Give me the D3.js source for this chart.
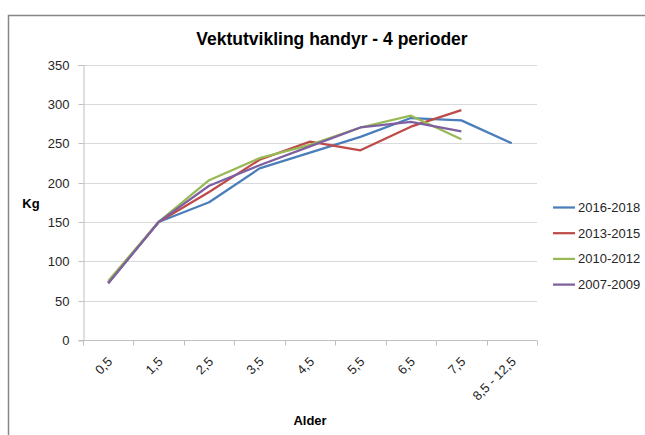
<!DOCTYPE html>
<html><head><meta charset="utf-8">
<script src="https://cdn.jsdelivr.net/npm/d3@7/dist/d3.min.js"></script>
<style>body{margin:0;background:#fff;} text{font-family:"Liberation Sans",Arial,sans-serif;}</style>
</head><body><svg id="c" width="645" height="435"></svg>
<script>
const categories = ["0,5","1,5","2,5","3,5","4,5","5,5","6,5","7,5","8,5 - 12,5"];
const s2016 = [72,150,175,218,238,258,282,279,250];
const s2013 = [73,150,188,229,252,241,271,292,null];
const s2010 = [75,150,203,231,248,270,285,255,null];
const s2007 = [72,150,196,222,246,270,277,265,null];
const seriesNames = ["2016-2018","2013-2015","2010-2012","2007-2009"];
const colors = ["#4a7ebb","#be4b48","#98b954","#7d60a0"];
const yTicks = [0,50,100,150,200,250,300,350];

const svg = d3.select("#c");
// frame
svg.append("path").attr("d","M8.5,435 V15.5 H645").attr("fill","none").attr("stroke","#878787").attr("stroke-width",1.5);

const x = d3.scaleBand().domain(categories).range([83,537]);
const y = d3.scaleLinear().domain([0,350]).range([340,64.5]);

// gridlines
svg.append("g").selectAll("line").data(yTicks.filter(d=>d>0)).join("line")
  .attr("x1",83).attr("x2",537).attr("y1",d=>Math.round(y(d))+0.5).attr("y2",d=>Math.round(y(d))+0.5)
  .attr("stroke","#d9d9d9").attr("stroke-width",1);

// y axis
const ya = svg.append("g").attr("transform","translate(83.5,0.5)")
  .call(d3.axisLeft(y).tickValues(yTicks).tickSize(5).tickPadding(9).tickFormat(d3.format("d")));
ya.select(".domain").attr("stroke","#bfbfbf");
ya.selectAll(".tick line").attr("stroke","#bfbfbf");
ya.selectAll("text").attr("font-size",13).attr("fill","#262626").attr("font-family","Liberation Sans, Arial, sans-serif");
ya.selectAll(".tick").attr("transform",d=>`translate(0,${Math.round(y(d))})`);

// x axis
const xa = svg.append("g").attr("transform","translate(0,340.5)");
xa.append("line").attr("x1",83).attr("x2",537).attr("stroke","#bfbfbf");
const bounds = categories.map(c=>x(c)).concat([x.range()[1]]);
xa.selectAll("line.tk").data(bounds).join("line").attr("class","tk")
  .attr("x1",d=>Math.round(d)+0.5).attr("x2",d=>Math.round(d)+0.5).attr("y1",0).attr("y2",5).attr("stroke","#bfbfbf");
xa.selectAll("text").data(categories).join("text")
  .attr("transform",d=>`translate(${x(d)+x.bandwidth()/2+5},${22}) rotate(-45)`)
  .attr("text-anchor","end").attr("font-size",13).attr("fill","#262626").text(d=>d);

// lines
const all = [s2016,s2013,s2010,s2007];
const line = d3.line().defined(d=>d.v!=null).x(d=>x(d.c)+x.bandwidth()/2).y(d=>y(d.v));
all.forEach((s,i)=>{
  svg.append("path").datum(s.map((v,j)=>({c:categories[j],v})))
    .attr("d",line).attr("fill","none").attr("stroke",colors[i]).attr("stroke-width",2.25)
    .attr("stroke-linejoin","round");
});

// title
svg.append("text").attr("x",332).attr("y",45).attr("text-anchor","middle")
  .attr("font-size",17.5).attr("font-weight","bold").attr("fill","#000").text("Vektutvikling handyr - 4 perioder");
// axis titles
svg.append("text").attr("x",31).attr("y",208).attr("text-anchor","middle")
  .attr("font-size",13).attr("font-weight","bold").text("Kg");
svg.append("text").attr("x",310).attr("y",425).attr("text-anchor","middle")
  .attr("font-size",13).attr("font-weight","bold").text("Alder");

// legend
const lg = svg.append("g");
seriesNames.forEach((n,i)=>{
  const yy = 207.5 + i*25.7;
  lg.append("line").attr("x1",553).attr("x2",575).attr("y1",yy).attr("y2",yy).attr("stroke",colors[i]).attr("stroke-width",2.25);
  lg.append("text").attr("x",578).attr("y",yy+4.5).attr("font-size",13).attr("fill","#262626").text(n);
});
</script></body></html>
